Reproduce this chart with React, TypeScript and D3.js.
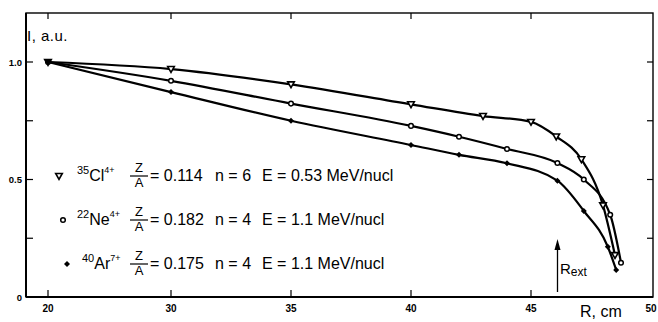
import * as d3 from 'd3'
import React from 'react'

// R in cm, I in arbitrary units
const rCl = [20, 30, 35, 40, 43, 45, 46.05, 47.1, 48.0, 48.5]
const iCl = [1.0, 0.97, 0.905, 0.82, 0.77, 0.745, 0.683, 0.586, 0.39, 0.178]
const rNe = [20, 30, 35, 40, 42, 44, 46.1, 47.2, 48.3, 48.75]
const iNe = [1.0, 0.92, 0.823, 0.728, 0.682, 0.63, 0.57, 0.5, 0.35, 0.146]
const rAr = [20, 30, 35, 40, 42, 44, 46.1, 47.2, 48.2, 48.55]
const iAr = [1.0, 0.872, 0.75, 0.647, 0.605, 0.569, 0.495, 0.366, 0.214, 0.115]

const xTicks = [20, 30, 35, 40, 45, 50]
const yTicks = [0, 0.25, 0.5, 0.75, 1.0]
const yLabels = [[0, '0'], [0.5, '0.5'], [1.0, '1.0']]

const isoMass = ['35', '22', '40']
const isoName = ['Cl', 'Ne', 'Ar']
const isoCharge = ['4+', '4+', '7+']
const zOverA = ['0.114', '0.182', '0.175']
const nVals = ['6', '4', '4']
const eVals = ['0.53', '1.1', '1.1']

const W = 658, H = 322
const left = 26, right = 653, top = 13, bottom = 297

export default function App() {
    // the R axis is compressed between 20 and 30
    let x = d3.scaleLinear().domain([20, 30, 50]).range([48, 171, 651])
    let y = d3.scaleLinear().domain([0, 1]).range([bottom, 62])
    let line = d3.line<[number, number]>()
        .x(d => x(d[0]))
        .y(d => y(d[1]))
        .curve(d3.curveMonotoneX)

    let series = [
        {name: 'Cl', pts: rCl.map((r, i) => [r, iCl[i]] as [number, number])},
        {name: 'Ne', pts: rNe.map((r, i) => [r, iNe[i]] as [number, number])},
        {name: 'Ar', pts: rAr.map((r, i) => [r, iAr[i]] as [number, number])},
    ]

    let marker = (name: string, cx: number, cy: number, key: any) => {
        if (name === 'Cl') {
            return <path key={key} d={`M${cx - 3.3},${cy - 2.5}L${cx + 3.3},${cy - 2.5}L${cx},${cy + 3.3}Z`}
                fill="white" stroke="black" strokeWidth={1.6} />
        } else if (name === 'Ne') {
            return <circle key={key} cx={cx} cy={cy} r={2.3} fill="white" stroke="black" strokeWidth={1.5} />
        }
        return <path key={key} d={`M${cx},${cy - 3}L${cx + 3},${cy}L${cx},${cy + 3}L${cx - 3},${cy}Z`} fill="black" />
    }

    let legendY = [175, 219, 263]
    let legendMarkX = [59, 63, 67]
    let legendTextX = [77, 77, 82]
    let font = "'Liberation Sans', Arial, sans-serif"

    return (
        <svg width={W} height={H} style={{position: 'absolute', left: 0, top: 0, background: 'white'}}
            fontFamily={font}>
            {/* frame */}
            <rect x={left} y={top} width={right - left} height={bottom - top} fill="none" stroke="black" strokeWidth={1.4} />
            <line x1={left} x2={right} y1={bottom} y2={bottom} stroke="black" strokeWidth={2} />
            <line x1={left} x2={left} y1={top} y2={bottom} stroke="black" strokeWidth={2} />

            {/* ticks */}
            {xTicks.filter(t => t < 50).map(t => (
                <g key={'xt' + t}>
                    <line x1={x(t)} x2={x(t)} y1={bottom} y2={bottom - 7} stroke="black" strokeWidth={1.2} />
                    <line x1={x(t)} x2={x(t)} y1={top} y2={top + 6} stroke="black" strokeWidth={1.2} />
                </g>
            ))}
            {xTicks.map(t => (
                <text key={'xl' + t} x={x(t)} y={312} fontSize={10} fontWeight="bold" textAnchor="middle">{t}</text>
            ))}
            {yTicks.filter(t => t > 0).map(t => (
                <g key={'yt' + t}>
                    <line x1={left} x2={left + 7} y1={y(t)} y2={y(t)} stroke="black" strokeWidth={1.2} />
                    <line x1={right} x2={right - 6} y1={y(t)} y2={y(t)} stroke="black" strokeWidth={1.2} />
                </g>
            ))}
            {yLabels.map(d => (
                <text key={'yl' + d[1]} x={22} y={y(d[0] as number) + 3.5} fontSize={9.5} fontWeight="bold" textAnchor="end">{d[1]}</text>
            ))}

            {/* axis titles */}
            <text x={27} y={41} fontSize={15} letterSpacing={0.5}>I, a.u.</text>
            <text x={580} y={317} fontSize={16}>R, cm</text>

            {/* curves */}
            {series.map(s => (
                <path key={s.name} d={line(s.pts) || ''} fill="none" stroke="black" strokeWidth={2.2} />
            ))}
            {series.map(s => s.pts.map((p, i) => marker(s.name, x(p[0]), y(p[1]), s.name + i)))}

            {/* R_ext arrow */}
            <line x1={557.5} x2={557.5} y1={292} y2={248} stroke="black" strokeWidth={1.3} />
            <path d="M557.5,239L560.5,250L554.5,250Z" fill="black" />
            <text x={560} y={274} fontSize={15}>R<tspan fontSize={12} dy={2}>ext</tspan></text>

            {/* legend */}
            {isoName.map((nm, i) => {
                let cy = legendY[i]
                return (
                    <g key={'lg' + nm}>
                        {marker(nm, legendMarkX[i], cy + 1, 'lm' + nm)}
                        <text x={legendTextX[i]} y={cy + 6} fontSize={16}>
                            <tspan fontSize={11} dy={-7}>{isoMass[i]}</tspan>
                            <tspan dy={7}>{nm}</tspan>
                            <tspan fontSize={9} dy={-8}>{isoCharge[i]}</tspan>
                        </text>
                        <text x={139} y={cy - 3} fontSize={13} textAnchor="middle">Z</text>
                        <line x1={130} x2={148} y1={cy + 1} y2={cy + 1} stroke="black" strokeWidth={1.2} />
                        <text x={139} y={cy + 12} fontSize={13} textAnchor="middle">A</text>
                        <text x={150} y={cy + 6} fontSize={16}>= {zOverA[i]}</text>
                        <text x={215} y={cy + 6} fontSize={16}>n = {nVals[i]}</text>
                        <text x={262} y={cy + 6} fontSize={16}>E = {eVals[i]} MeV/nucl</text>
                    </g>
                )
            })}
        </svg>
    )
}
